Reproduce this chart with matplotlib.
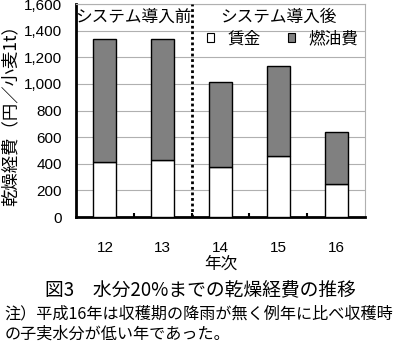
import matplotlib.pyplot as plt
from matplotlib.patches import Patch

plt.rcParams['font.family'] = ['Noto Sans CJK JP', 'DejaVu Sans']

years = ["12", "13", "14", "15", "16"]
wage = [415, 425, 378, 460, 248]          # 賃金
fuel = [925, 915, 638, 672, 392]          # 燃油費
yticks = [0, 200, 400, 600, 800, 1000, 1200, 1400, 1600]

fig = plt.figure(figsize=(4.0, 3.45), dpi=100)
ax = fig.add_axes([0.19, 0.371, 0.7225, 0.617])

x = range(len(years))
ax.bar(x, wage, width=0.4, color="white", edgecolor="black", linewidth=1, zorder=3)
ax.bar(x, fuel, width=0.4, bottom=wage, color="#808080", edgecolor="black", linewidth=1, zorder=3)

ax.set_xlim(-0.5, 4.5)
ax.set_ylim(0, 1600)
ax.set_yticks(yticks)
ax.set_yticklabels([f"{v:,}" for v in yticks], fontsize=11, family="Liberation Sans")
ax.set_xticks(list(x))
ax.set_xticklabels(years, fontsize=11, family="Liberation Sans")
ax.tick_params(axis="x", length=0, pad=17)
ax.tick_params(axis="y", length=0, pad=10)
ax.set_xticks([0.5, 1.5, 2.5, 3.5], minor=True)
ax.tick_params(axis="x", which="minor", direction="in", length=3, width=1.5)

ax.yaxis.grid(True, color="#b0b0b0", linewidth=0.8, zorder=0)
ax.set_axisbelow(True)
for s in ["left", "bottom"]:
    ax.spines[s].set_linewidth(2)
for s in ["top", "right"]:
    ax.spines[s].set_color("#b0b0b0")
    ax.spines[s].set_linewidth(0.8)

ax.axvline(1.5, color="black", linestyle=(0, (1, 1)), linewidth=2, zorder=4)

ax.text(0.5, 1500, "システム導入前", ha="center", va="center", fontsize=12)
ax.text(3.0, 1500, "システム導入後", ha="center", va="center", fontsize=12)

handles = [Patch(facecolor="white", edgecolor="black", linewidth=0.8, label="賃金"),
           Patch(facecolor="#808080", edgecolor="black", linewidth=0.8, label="燃油費")]
ax.legend(handles=handles, ncol=2, frameon=False, fontsize=12,
          loc="center", bbox_to_anchor=(0.715, 0.835),
          handlelength=0.45, handleheight=0.45, handletextpad=0.8, columnspacing=1.6)

ax.set_ylabel("乾燥経費（円／小麦1t）", fontsize=12.5, labelpad=3)
ax.set_xlabel("年次", fontsize=12, labelpad=1)

fig.text(0.5, 0.158, "図3　水分20%までの乾燥経費の推移", ha="center", va="center", fontsize=13.5)
fig.text(0.012, 0.062, "注）平成16年は収穫期の降雨が無く例年に比べ収穫時\nの子実水分が低い年であった。",
         ha="left", va="center", fontsize=11.6, linespacing=1.25)

fig.savefig("out.png", dpi=100)
